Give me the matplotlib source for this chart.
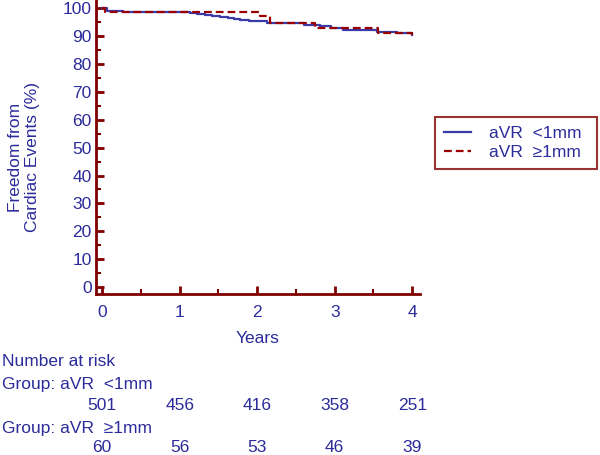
import matplotlib
matplotlib.use("Agg")
import matplotlib.pyplot as plt
from matplotlib.ticker import MultipleLocator
import matplotlib.transforms as mtransforms

plt.rcParams['font.family'] = ['Liberation Sans', 'DejaVu Sans']

# Kaplan-Meier step data (years, % free of events)
t_low = [0.0, 0.06, 0.27, 1.13, 1.22, 1.32, 1.42, 1.52, 1.62, 1.70, 1.78, 1.90, 2.00, 2.13, 2.40, 2.60, 2.81, 2.95, 3.11, 3.55, 3.80, 4.00]
s_low = [100.0, 99.2, 98.7, 98.4, 98.1, 97.7, 97.3, 97.0, 96.7, 96.3, 96.0, 95.6, 95.3, 94.9, 94.6, 94.2, 93.6, 92.8, 92.2, 91.6, 91.2, 90.6]

t_high = [0.0, 0.03, 2.04, 2.17, 2.75, 3.56, 4.00]
s_high = [100.0, 98.7, 97.2, 94.6, 92.8, 91.1, 90.6]

years = [0, 1, 2, 3, 4]
risk_low = [501, 456, 416, 358, 251]
risk_high = [60, 56, 53, 46, 39]

label_low = "aVR  <1mm"
label_high = "aVR  \u22651mm"

axis_col = '#800000'
text_col = '#2b2b9b'
blue = '#3a3aa8'
red = '#9b0000'

fig = plt.figure(figsize=(6, 4.55), dpi=100)
ax = fig.add_axes([0.16, 0.354, 0.54, 0.646])

ax.step(t_low, s_low, where='post', color=blue, lw=1.6, label=label_low)
ax.step(t_high, s_high, where='post', color=red, lw=1.6, ls=(0, (3.5, 1.8)), label=label_high)

ax.set_xlim(-0.08, 4.1)
ax.set_ylim(-2.5, 103)
ax.xaxis.set_major_locator(MultipleLocator(1))
ax.xaxis.set_minor_locator(MultipleLocator(0.5))
ax.yaxis.set_major_locator(MultipleLocator(10))
ax.yaxis.set_minor_locator(MultipleLocator(5))

for s in ['top', 'right']:
    ax.spines[s].set_visible(False)
for s in ['left', 'bottom']:
    ax.spines[s].set_color(axis_col)
    ax.spines[s].set_linewidth(2)

fs = 12.5
ax.tick_params(which='major', direction='in', length=6, width=2, color=axis_col,
               labelcolor=text_col, labelsize=fs, pad=3)
ax.tick_params(axis='x', which='major', pad=8)
ax.tick_params(which='minor', direction='in', length=3.5, width=1.5, color=axis_col)

ax.set_xlabel("Years", color=text_col, fontsize=fs, labelpad=8)
ax.set_ylabel("Freedom from\nCardiac Events (%)", color=text_col, fontsize=fs)
ax.yaxis.set_label_coords(-0.172, 0.466)

leg = ax.legend(loc='upper left', bbox_to_anchor=(435 / 600, 1 - 122 / 455, 162 / 600, 0.01),
                bbox_transform=fig.transFigure, mode='expand',
                frameon=True, fancybox=False, fontsize=fs, handlelength=1.6, handletextpad=1.0,
                borderpad=0.5, labelspacing=0.2, borderaxespad=0)
leg.get_frame().set_edgecolor(axis_col)
leg.get_frame().set_linewidth(1.5)
for t in leg.get_texts():
    t.set_color(text_col)

# Number at risk table
fig.text(0.003, 1 - 362 / 455, "Number at risk", color=text_col, fontsize=fs, va='center')
fig.text(0.003, 1 - 384 / 455, "Group: " + label_low, color=text_col, fontsize=fs, va='center')
fig.text(0.003, 1 - 428 / 455, "Group: " + label_high, color=text_col, fontsize=fs, va='center')
trans = mtransforms.blended_transform_factory(ax.transData, fig.transFigure)
for x, n in zip(years, risk_low):
    ax.text(x, 1 - 406 / 455, str(n), transform=trans, ha='center', va='center',
            color=text_col, fontsize=fs, clip_on=False)
for x, n in zip(years, risk_high):
    ax.text(x, 1 - 448 / 455, str(n), transform=trans, ha='center', va='center',
            color=text_col, fontsize=fs, clip_on=False)

fig.savefig("out.png", dpi=100)
